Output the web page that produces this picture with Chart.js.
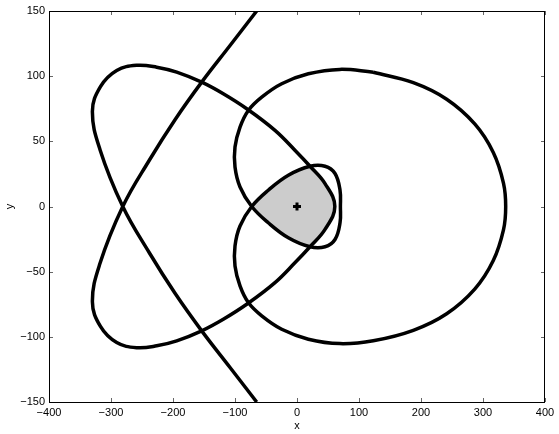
<!DOCTYPE html>
<html lang="en">
<head>
    <meta charset="UTF-8">
    <title>Curves</title>
    <script src="https://cdn.jsdelivr.net/npm/chart.js"></script>
    <style>
        body { margin: 0; background: #fff; }
        canvas { display: block; }
    </style>
</head>
<body>
<canvas id="curveChart" width="559" height="434"></canvas>

<script>
    // outer + inner loop curve on the right
    const loopX = [123, 69, 18.3, -24.7, -56.9, -78.5, -91.9, -100, -100, -91.9, -73, -46.3, -14, 21, 45.2, 61.3, 69.4, 70, 69.4, 61.3, 45.2, 21, -14, -46.3, -73, -91.9, -100, -100, -91.9, -78.5, -56.9, -24.7, 18.3, 69, 123, 187.6, 241.4, 287, 316.6, 333, 336.6, 333, 316.6, 287, 241.4, 187.6, 123];
    const loopY = [103, 105.2, 101.8, 94.2, 83.9, 73.7, 60.9, 45.6, 30.3, 15, 0, -12.5, -24, -30.9, -30.9, -25.3, -12.5, 0, 12.5, 25.3, 30.9, 30.9, 24, 12.5, 0, -15, -30.3, -45.6, -60.9, -73.7, -83.9, -94.2, -101.8, -105.2, -103, -95, -82.3, -63.2, -41.5, -18, 0, 18, 41.5, 63.2, 82.3, 95, 103];

    // open curve with a loop on the left
    const openX = [-65, -108, -153.7, -197, -238.2, -281, -317.7, -330, -317, -290.8, -258.5, -226.3, -194, -153.7, -118.9, -81.1, -35.5, -3, 21, 45.2, 61, 45.2, 21, -3, -35.5, -81.1, -118.9, -153.7, -194, -226.3, -258.5, -290.8, -317, -330, -317.7, -281, -238.2, -197, -153.7, -108, -65];
    const openY = [150, 123.5, 95.4, 66.4, 35.5, 0, -43.6, -73, -92, -104.4, -108.3, -106.9, -103.1, -95.4, -86.5, -75, -58.4, -43, -30.9, -17.6, 0, 17.6, 30.9, 43, 58.4, 75, 86.5, 95.4, 103.1, 106.9, 108.3, 104.4, 92, 73, 43.6, 0, -35.5, -66.4, -95.4, -123.5, -150];

    // shaded region, upper and lower edges
    const shadeTopX = [-73, -46.3, -14, 21, 45.2, 61];
    const shadeTopY = [0, 12.5, 24, 30.9, 17.6, 0];
    const shadeBotX = [-73, -46.3, -14, 21, 45.2, 61];
    const shadeBotY = [0, -12.5, -24, -30.9, -17.6, 0];

    const markX = [0];
    const markY = [0];

    const toPts = (xs, ys) => xs.map((v, i) => ({x: v, y: ys[i]}));
    const minus = v => String(v).replace('-', '\u2212');
    const font = {family: '"Liberation Sans", Arial, Helvetica, sans-serif', size: 11};

    // box around the plot with ticks pointing inward
    const framePlugin = {
        id: 'frame',
        afterDatasetsDraw(chart) {
            const {ctx, chartArea: a, scales: {x, y}} = chart;
            ctx.save();
            ctx.strokeStyle = '#666';
            ctx.lineWidth = 1;
            ctx.beginPath();
            x.ticks.forEach(t => {
                const px = Math.round(x.getPixelForValue(t.value)) + 0.5;
                ctx.moveTo(px, a.top); ctx.lineTo(px, a.top + 4);
                ctx.moveTo(px, a.bottom); ctx.lineTo(px, a.bottom - 4);
            });
            y.ticks.forEach(t => {
                const py = Math.round(y.getPixelForValue(t.value)) + 0.5;
                ctx.moveTo(a.left, py); ctx.lineTo(a.left + 4, py);
                ctx.moveTo(a.right, py); ctx.lineTo(a.right - 4, py);
            });
            ctx.stroke();
            ctx.strokeStyle = '#000';
            ctx.strokeRect(a.left + 0.5, a.top + 0.5, a.right - a.left - 1, a.bottom - a.top);
            ctx.restore();
        }
    };

    const lineDs = (xs, ys) => ({
        data: toPts(xs, ys),
        showLine: true,
        borderColor: '#000',
        borderWidth: 3.5,
        pointRadius: 0,
        tension: 0.4,
        fill: false,
        order: 1
    });
    const shadeDs = (xs, ys, base) => ({
        data: toPts(xs, ys),
        showLine: true,
        borderColor: '#cccccc',
        borderWidth: 1,
        backgroundColor: '#cccccc',
        pointRadius: 0,
        tension: 0.3,
        fill: {value: base},
        order: 5
    });

    new Chart(document.getElementById('curveChart').getContext('2d'), {
        type: 'scatter',
        data: {
            datasets: [
                {
                    data: toPts(markX, markY),
                    pointStyle: 'cross',
                    pointRadius: 4,
                    borderWidth: 3,
                    borderColor: '#000',
                    backgroundColor: '#000',
                    order: 0
                },
                lineDs(loopX, loopY),
                lineDs(openX, openY),
                shadeDs(shadeTopX, shadeTopY, -1),
                shadeDs(shadeBotX, shadeBotY, 1)
            ]
        },
        options: {
            responsive: false,
            animation: false,
            devicePixelRatio: 1,
            layout: { padding: {top: 11, right: 14, left: 0, bottom: 0} },
            plugins: { legend: {display: false}, tooltip: {enabled: false} },
            scales: {
                x: {
                    type: 'linear',
                    min: -400, max: 400,
                    grid: {display: false, drawTicks: false},
                    border: {display: false},
                    ticks: { stepSize: 100, padding: 4, color: '#000', font: font, maxRotation: 0,
                        callback: v => minus(v) },
                    title: { display: true, text: 'x', color: '#000', font: font, padding: {top: 0, bottom: 1} },
                    afterFit: s => { s.height = 32; }
                },
                y: {
                    type: 'linear',
                    min: -150, max: 150,
                    grid: {display: false, drawTicks: false},
                    border: {display: false},
                    ticks: { stepSize: 50, padding: 4, color: '#000', font: font,
                        callback: v => minus(v) },
                    title: { display: true, text: 'y', color: '#000', font: font, padding: {top: 3, bottom: 0} },
                    afterFit: s => { s.width = 49; }
                }
            }
        },
        plugins: [framePlugin]
    });
</script>
</body>
</html>
